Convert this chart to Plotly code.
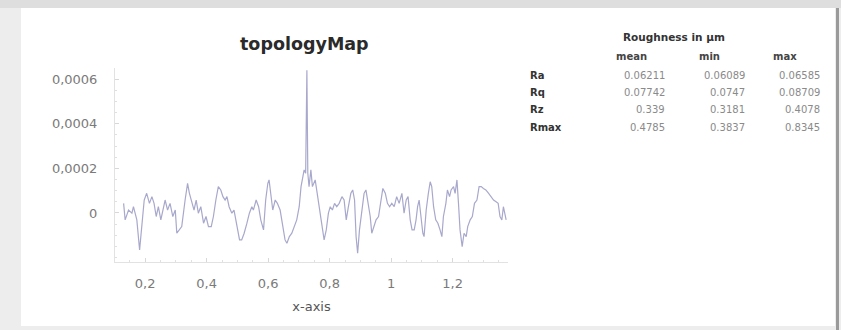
import plotly.graph_objects as go

# Profile samples along the measured line
x_pos = [0.130, 0.135, 0.146, 0.157, 0.162, 0.173, 0.182, 0.189, 0.197, 0.205,
         0.214, 0.222, 0.229, 0.236, 0.243, 0.251, 0.260, 0.265, 0.273, 0.281,
         0.290, 0.298, 0.303, 0.312, 0.319, 0.330, 0.338, 0.344, 0.352, 0.359,
         0.366, 0.373, 0.381, 0.390, 0.398, 0.406, 0.415, 0.422, 0.430, 0.438,
         0.446, 0.453, 0.460, 0.466, 0.473, 0.482, 0.489, 0.498, 0.507, 0.514,
         0.522, 0.531, 0.539, 0.547, 0.552, 0.561, 0.569, 0.576, 0.585, 0.592,
         0.599, 0.603, 0.609, 0.615, 0.623, 0.630, 0.639, 0.648, 0.655, 0.661,
         0.669, 0.677, 0.685, 0.693, 0.701, 0.707, 0.713, 0.717, 0.722, 0.726,
         0.729, 0.733, 0.739, 0.744, 0.753, 0.758, 0.766, 0.772, 0.778, 0.782,
         0.789, 0.796, 0.802, 0.809, 0.816, 0.823, 0.831, 0.840, 0.847, 0.854,
         0.861, 0.869, 0.875, 0.881, 0.886, 0.891, 0.897, 0.905, 0.912, 0.918,
         0.924, 0.932, 0.937, 0.945, 0.951, 0.959, 0.966, 0.973, 0.981, 0.988,
         0.995, 1.002, 1.010, 1.018, 1.026, 1.035, 1.042, 1.049, 1.055, 1.062,
         1.068, 1.075, 1.081, 1.086, 1.091, 1.096, 1.103, 1.107, 1.114, 1.121,
         1.127, 1.132, 1.138, 1.145, 1.152, 1.159, 1.165, 1.170, 1.178, 1.183,
         1.190, 1.195, 1.203, 1.208, 1.214, 1.219, 1.224, 1.231, 1.237, 1.244,
         1.249, 1.257, 1.264, 1.271, 1.279, 1.286, 1.293, 1.300, 1.308, 1.317,
         1.324, 1.333, 1.340, 1.348, 1.354, 1.360, 1.365, 1.370, 1.374]

height = [4.3e-5, -3.1e-5, 1.3e-5, -0.1e-5, 2.8e-5, -3.1e-5, -16.6e-5, -6.1e-5, 5.8e-5, 8.8e-5,
          4.3e-5, 7.3e-5, 4.3e-5, -1.6e-5, 2.8e-5, -3.1e-5, 2.8e-5, 5.8e-5, 1.3e-5, 4.3e-5,
          -1.6e-5, 1.3e-5, -9.1e-5, -7.6e-5, -6.1e-5, 5.8e-5, 13.3e-5, 8.8e-5, 4.3e-5, 1.3e-5,
          5.8e-5, -0.1e-5, 2.8e-5, -4.6e-5, -1.6e-5, -6.1e-5, -6.1e-5, -1.6e-5, 5.8e-5, 11.8e-5,
          10.3e-5, 7.3e-5, 5.8e-5, 7.3e-5, 2.8e-5, -0.1e-5, 1.3e-5, -4.6e-5, -12.1e-5, -12.1e-5,
          -9.1e-5, -4.6e-5, -0.1e-5, 2.8e-5, 1.3e-5, 5.8e-5, 2.8e-5, -3.1e-5, -7.6e-5, 5.8e-5,
          13.3e-5, 14.8e-5, 8.8e-5, 1.3e-5, 5.8e-5, 4.3e-5, 1.3e-5, -6.1e-5, -12.1e-5, -13.6e-5,
          -10.6e-5, -9.1e-5, -6.1e-5, -3.1e-5, 2.8e-5, 11.8e-5, 16.3e-5, 19.3e-5, 17.8e-5, 64.0e-5,
          17.8e-5, 11.8e-5, 19.3e-5, 11.8e-5, 14.8e-5, 10.3e-5, 1.3e-5, -3.1e-5, -9.1e-5, -12.1e-5,
          -7.6e-5, -0.1e-5, 2.8e-5, 1.3e-5, 4.3e-5, 2.8e-5, 4.3e-5, 7.3e-5, 5.8e-5, -3.1e-5,
          2.8e-5, 8.8e-5, 10.3e-5, 5.8e-5, -10.6e-5, -18.1e-5, -7.6e-5, 1.3e-5, 8.8e-5, 10.3e-5,
          5.8e-5, -1.6e-5, -9.1e-5, -6.1e-5, -3.1e-5, -1.6e-5, 5.8e-5, 11.0e-5, 8.8e-5, 4.3e-5,
          2.8e-5, 4.3e-5, 2.8e-5, 7.3e-5, 4.3e-5, 8.8e-5, -0.1e-5, 5.8e-5, 7.3e-5, -3.1e-5,
          -7.6e-5, -7.6e-5, -3.1e-5, 2.8e-5, 5.8e-5, -1.6e-5, -9.1e-5, -10.6e-5, 1.3e-5, 8.8e-5,
          14.0e-5, 11.8e-5, 2.8e-5, -3.1e-5, -4.6e-5, -7.6e-5, -10.6e-5, -1.6e-5, 4.3e-5, 10.3e-5,
          7.3e-5, 10.3e-5, 11.8e-5, 8.8e-5, 14.8e-5, 4.3e-5, -7.6e-5, -15.1e-5, -9.1e-5, -10.6e-5,
          -6.1e-5, -3.1e-5, -1.6e-5, 4.3e-5, 5.8e-5, 11.8e-5, 11.8e-5, 11.0e-5, 10.3e-5, 8.8e-5,
          7.3e-5, 5.8e-5, 5.1e-5, 4.3e-5, -1.6e-5, -3.1e-5, 2.8e-5, -1.6e-5, -3.1e-5]

# Roughness summary table
rough_params = ["Ra", "Rq", "Rz", "Rmax"]
rough_cols = ["mean", "min", "max"]
rough_mean = ["0.06211", "0.07742", "0.339", "0.4785"]
rough_min = ["0.06089", "0.0747", "0.3181", "0.3837"]
rough_max = ["0.06585", "0.08709", "0.4078", "0.8345"]

x_ticks = [0.2, 0.4, 0.6, 0.8, 1.0, 1.2]
y_ticks = [0.0, 0.0002, 0.0004, 0.0006]

W, H = 841, 330
L, R, T, B = 115, 333, 68, 68
PW, PH = W - L - R, H - T - B


def px(x):
    return (x - L) / PW


def py(y):
    return (H - B - y) / PH


FONT = "DejaVu Sans"

fig = go.Figure()
fig.add_trace(go.Scatter(
    x=x_pos, y=height, mode="lines",
    line=dict(color="#a8a8cc", width=1.2),
    hoverinfo="skip", showlegend=False,
))

shapes = [
    # white sheet on the grey window background
    dict(type="rect", xref="paper", yref="paper", layer="below",
         x0=px(21), x1=px(835), y0=py(326), y1=py(8),
         fillcolor="white", line=dict(width=0)),
    # dark right edge of the window
    dict(type="rect", xref="paper", yref="paper", layer="below",
         x0=px(836), x1=px(839), y0=py(330), y1=py(8),
         fillcolor="#9a9a9a", line=dict(width=0)),
    # top grey strip
    dict(type="rect", xref="paper", yref="paper", layer="below",
         x0=px(0), x1=px(841), y0=py(8), y1=py(0),
         fillcolor="#dedede", line=dict(width=0)),
]

annotations = [
    dict(text="<b>topologyMap</b>", x=px(304), y=py(44), xref="paper", yref="paper",
         showarrow=False, xanchor="center", yanchor="middle",
         font=dict(family=FONT, size=17.5, color="#2a2a2a")),
    dict(text="<b>Roughness in µm</b>", x=px(674), y=py(37), xref="paper", yref="paper",
         showarrow=False, xanchor="center", yanchor="middle",
         font=dict(family=FONT, size=10.5, color="#333333")),
]

col_hdr_x = [631, 709, 785]
col_val_x = [667, 747, 822]
row_y = [75, 92, 109, 127]

for cx, name in zip(col_hdr_x, rough_cols):
    annotations.append(dict(text=f"<b>{name}</b>", x=px(cx), y=py(56), xref="paper",
                            yref="paper", showarrow=False, xanchor="center",
                            yanchor="middle",
                            font=dict(family=FONT, size=10, color="#444444")))

for ry, name, a, b, c in zip(row_y, rough_params, rough_mean, rough_min, rough_max):
    annotations.append(dict(text=f"<b>{name}</b>", x=px(528), y=py(ry), xref="paper",
                            yref="paper", showarrow=False, xanchor="left",
                            yanchor="middle",
                            font=dict(family=FONT, size=10, color="#333333")))
    for vx, val in zip(col_val_x, (a, b, c)):
        annotations.append(dict(text=val, x=px(vx), y=py(ry), xref="paper",
                                yref="paper", showarrow=False, xanchor="right",
                                yanchor="middle",
                                font=dict(family=FONT, size=10, color="#8a8a8a")))

fig.update_layout(
    width=W, height=H,
    margin=dict(l=L, r=R, t=T, b=B, pad=0),
    paper_bgcolor="#ededed",
    plot_bgcolor="rgba(0,0,0,0)",
    separators=",.",
    shapes=shapes,
    annotations=annotations,
    xaxis=dict(
        range=[0.102, 1.38], tickvals=x_ticks, ticktext=["0,2", "0,4", "0,6", "0,8", "1", "1,2"],
        showgrid=False, zeroline=False, showline=True, linecolor="#e2e2e2", linewidth=1,
        ticks="inside", ticklen=4, tickcolor="#d8d8d8",
        minor=dict(dtick=0.05, ticks="inside", ticklen=2, tickcolor="#e0e0e0"),
        tickfont=dict(family=FONT, size=13, color="#7a7a7a"),
        ticklabelstandoff=9,
        title=dict(text="x-axis", font=dict(family=FONT, size=13, color="#555555"),
                   standoff=12),
    ),
    yaxis=dict(
        range=[-0.00022, 0.00065], tickvals=y_ticks,
        ticktext=["0", "0,0002", "0,0004", "0,0006"],
        showgrid=False, zeroline=False, showline=True, linecolor="#e2e2e2", linewidth=1,
        ticks="inside", ticklen=4, tickcolor="#d8d8d8",
        minor=dict(dtick=0.00005, ticks="inside", ticklen=2, tickcolor="#e0e0e0"),
        tickfont=dict(family=FONT, size=13, color="#7a7a7a"),
        ticklabelstandoff=14,
    ),
)

fig.write_html("out.html")
